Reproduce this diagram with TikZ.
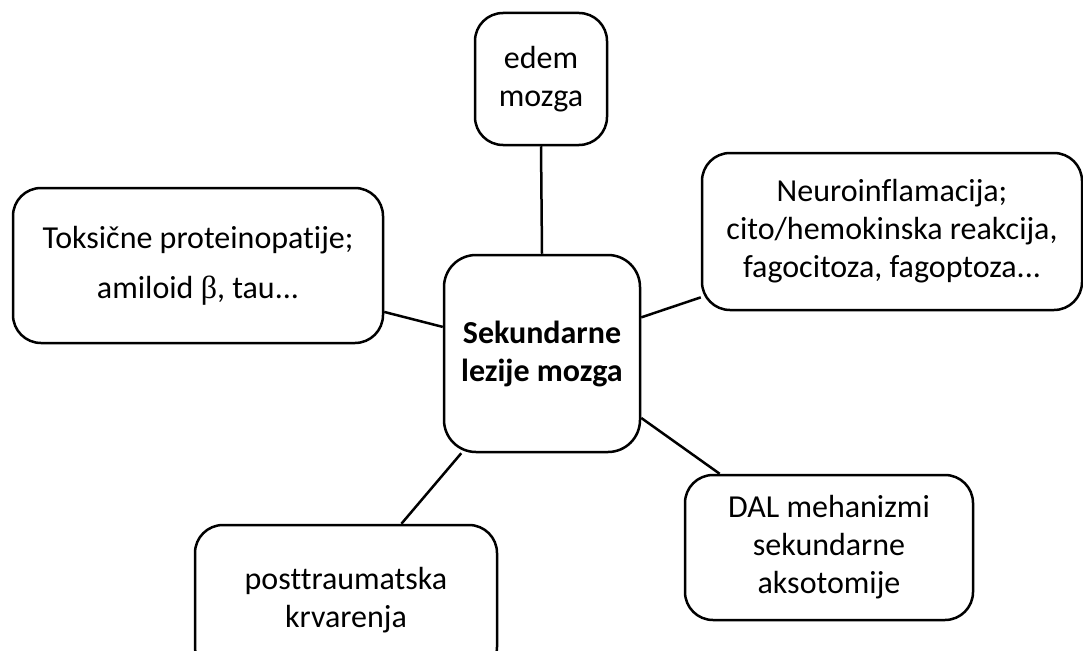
\documentclass[tikz,border=0pt]{standalone}
\usepackage{fontspec}
\setmainfont{Carlito}[Ligatures={NoCommon}]
\newfontfamily\greekfont{Liberation Serif}
\usetikzlibrary{positioning}

\begin{document}
\begin{tikzpicture}[x=1pt,y=-1pt,line width=2.5pt,
    lesion/.style={draw,rounded corners=28pt,align=center,inner sep=0pt,
      font=\fontsize{32}{38}\selectfont}]
  \clip (0,0) rectangle (1083,650);
  % Nodes
  \node[lesion,minimum width=196pt,minimum height=197pt,rounded corners=32pt,
    font=\fontsize{32}{38}\selectfont\bfseries] (sek) at (542,353.5) {Sekundarne\\lezije mozga};
  \node[lesion,minimum width=132pt,minimum height=132pt] (edem) at (541,79) {edem\\mozga};
  \node[lesion,minimum width=370pt,minimum height=155pt] (tox) at (198,265.5)
    {Toksične proteinopatije;\\[12pt]amiloid {\greekfont β}, tau...};
  \node[lesion,minimum width=380pt,minimum height=157pt] (neuro) at (892,231.5)
    {Neuroinflamacija;\\cito/hemokinska reakcija,\\fagocitoza, fagoptoza...};
  \node[lesion,minimum width=288pt,minimum height=145pt] (dal) at (829,547.5)
    {DAL mehanizmi\\sekundarne\\aksotomije};
  \node[lesion,minimum width=302pt,minimum height=150pt] (krv) at (346,600)
    {posttraumatska\\krvarenja};
  % Connections
  \draw (edem.south) -- (sek.north);
  \draw (tox.-14) -- (sek.165);
  \draw (neuro.-161) -- (sek.20);
  \draw (dal.146) -- (sek.-33);
  \draw (krv.54) -- (sek.-129);
\end{tikzpicture}
\end{document}
